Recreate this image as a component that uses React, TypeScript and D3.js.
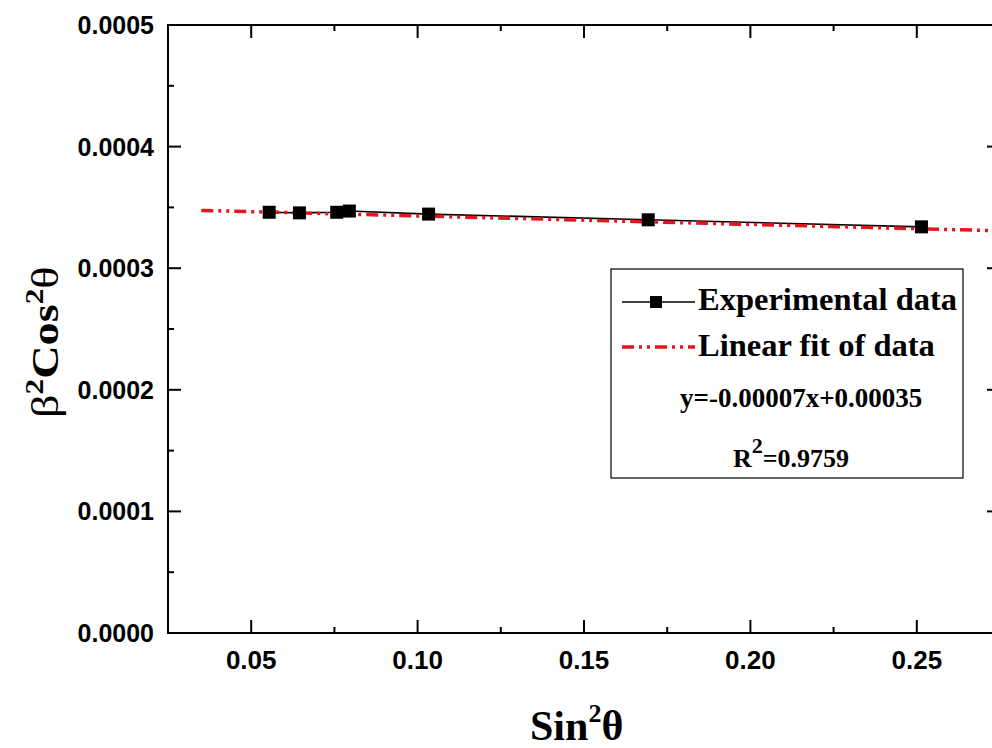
import React from "react";
import * as d3 from "d3";

const sinSq = [0.0554, 0.0645, 0.0757, 0.0795, 0.1033, 0.1693, 0.2514];
const betaCos = [0.000346, 0.0003455, 0.000346, 0.000347, 0.0003445, 0.0003398, 0.000334];
const fitRange = [0.035, 0.28];
const fitCoef = [-0.00007, 0.00035];
const xTicks = [0.05, 0.1, 0.15, 0.2, 0.25];
const xTickLabels = ["0.05", "0.10", "0.15", "0.20", "0.25"];
const yTicks = [0, 0.0001, 0.0002, 0.0003, 0.0004, 0.0005];
const yTickLabels = ["0.0000", "0.0001", "0.0002", "0.0003", "0.0004", "0.0005"];
const legendLabels = ["Experimental data", "Linear fit of data"];
const equationText = "y=-0.00007x+0.00035";
const r2Value = "=0.9759";

const W = 992;
const H = 748;
const left = 168, right = 1000, top = 25, bottom = 633;

export default function App() {
  const x = d3.scaleLinear().domain([0.025, 0.275]).range([left, right]);
  const y = d3.scaleLinear().domain([0, 0.0005]).range([bottom, top]);
  const xMinor = d3.range(0, 11).map((i) => 0.025 + i * 0.025).filter((v) => !xTicks.some((t) => Math.abs(t - v) < 1e-9) && v > 0.026 && v < 0.274);
  const yMinor = d3.range(0, 10).map((i) => 0.00005 + i * 0.0001).filter((v) => v < 0.0005);
  const pts = sinSq.map((s, i) => [s, betaCos[i]] as [number, number]);
  const line = d3.line<[number, number]>().x((d) => x(d[0])).y((d) => y(d[1]));
  const fitPts = fitRange.map((v) => [v, fitCoef[0] * v + fitCoef[1]] as [number, number]);
  const tickFont = "'Liberation Sans', Arial, sans-serif";
  const serif = "'Liberation Serif', 'Times New Roman', serif";
  const maj = 13, min = 6;
  const dash = "12 5 3 5 3 5";
  return (
    <div>
      <style>{`body{margin:0}`}</style>
      <svg width={W} height={H} style={{ display: "block", background: "#fff" }}>
        <defs>
          <clipPath id="plotclip">
            <rect x={left} y={top} width={right - left} height={bottom - top} />
          </clipPath>
        </defs>
        <rect x={left} y={top} width={right - left} height={bottom - top} fill="none" stroke="#000" strokeWidth={2} />
        {xTicks.map((t) => (
          <g key={"xt" + t}>
            <line x1={x(t)} x2={x(t)} y1={bottom} y2={bottom - maj} stroke="#000" strokeWidth={2} />
            <line x1={x(t)} x2={x(t)} y1={top} y2={top + maj} stroke="#000" strokeWidth={2} />
          </g>
        ))}
        {xMinor.map((t) => (
          <g key={"xm" + t}>
            <line x1={x(t)} x2={x(t)} y1={bottom} y2={bottom - min} stroke="#000" strokeWidth={2} />
            <line x1={x(t)} x2={x(t)} y1={top} y2={top + min} stroke="#000" strokeWidth={2} />
          </g>
        ))}
        {yTicks.map((t) => (
          <g key={"yt" + t}>
            <line x1={left} x2={left + maj} y1={y(t)} y2={y(t)} stroke="#000" strokeWidth={2} />
            <line x1={right} x2={right - maj} y1={y(t)} y2={y(t)} stroke="#000" strokeWidth={2} />
          </g>
        ))}
        {yMinor.map((t) => (
          <g key={"ym" + t}>
            <line x1={left} x2={left + min} y1={y(t)} y2={y(t)} stroke="#000" strokeWidth={2} />
            <line x1={right} x2={right - min} y1={y(t)} y2={y(t)} stroke="#000" strokeWidth={2} />
          </g>
        ))}
        {xTicks.map((t, i) => (
          <text key={"xl" + t} x={x(t)} y={669} textAnchor="middle" fontFamily={tickFont} fontWeight="bold" fontSize={26} fill="#000">
            {xTickLabels[i]}
          </text>
        ))}
        {yTicks.map((t, i) => (
          <text key={"yl" + t} x={154} y={y(t) + 9} textAnchor="end" fontFamily={tickFont} fontWeight="bold" fontSize={25} fill="#000">
            {yTickLabels[i]}
          </text>
        ))}
        <g clipPath="url(#plotclip)">
          <path d={line(pts) || ""} fill="none" stroke="#000" strokeWidth={1.6} />
          <path d={line(fitPts) || ""} fill="none" stroke="#e8141c" strokeWidth={3.5} strokeDasharray={dash} />
          {pts.map((p, i) => (
            <rect key={"p" + i} x={x(p[0]) - 6.5} y={y(p[1]) - 6.5} width={13} height={13} fill="#000" />
          ))}
        </g>
        <rect x={611} y={269} width={352} height={209} fill="#fff" stroke="#000" strokeWidth={1.2} />
        <line x1={622} x2={695} y1={302} y2={302} stroke="#000" strokeWidth={1.6} />
        <rect x={650} y={296} width={12} height={12} fill="#000" />
        <text x={698} y={310} fontFamily={serif} fontWeight="bold" fontSize={32.5} fill="#000">{legendLabels[0]}</text>
        <line x1={622} x2={695} y1={347} y2={347} stroke="#e8141c" strokeWidth={3.5} strokeDasharray={dash} />
        <text x={698} y={356} fontFamily={serif} fontWeight="bold" fontSize={32.5} fill="#000">{legendLabels[1]}</text>
        <text x={680} y={407} fontFamily={serif} fontWeight="bold" fontSize={27} fill="#000">{equationText}</text>
        <text x={733} y={467} fontFamily={serif} fontWeight="bold" fontSize={26} fill="#000">
          R<tspan dy={-14} fontSize={22}>2</tspan><tspan dy={14}>{r2Value}</tspan>
        </text>
        <text x={530} y={740} fontFamily={serif} fontWeight="bold" fontSize={42} fill="#000">
          Sin<tspan dy={-18} fontSize={26}>2</tspan><tspan dy={18}>θ</tspan>
        </text>
        <text transform="translate(58,418) rotate(-90) scale(1.25,1)" x={0} y={0} fontFamily={serif} fontWeight="bold" fontSize={37} fill="#000">
          <tspan fontWeight="normal">β</tspan><tspan dy={-15} fontSize={25}>2</tspan><tspan dy={15}>Cos</tspan><tspan dy={-15} fontSize={25}>2</tspan><tspan dy={15} fontWeight="normal">θ</tspan>
        </text>
      </svg>
    </div>
  );
}
